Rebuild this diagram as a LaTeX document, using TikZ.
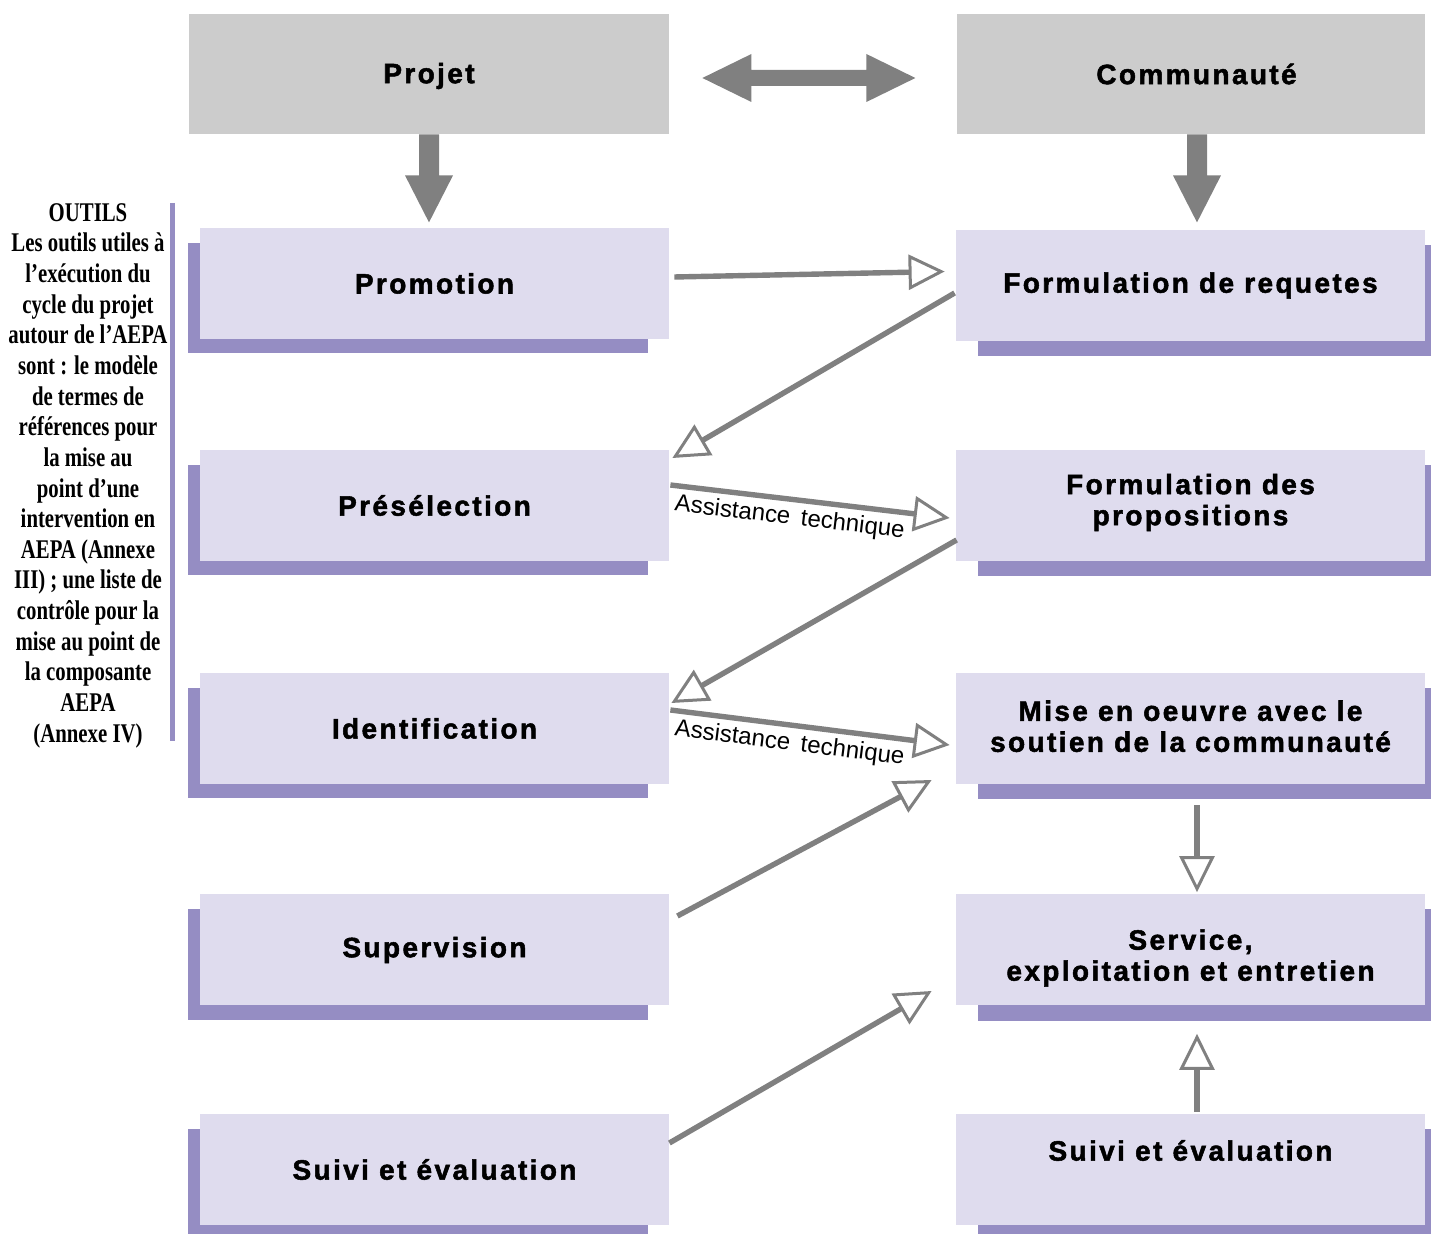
\documentclass[tikz,border=0pt]{standalone}
\usepackage{fontspec}
\setmainfont{Liberation Sans}
\newfontfamily\boxfont{Liberation Sans}[LetterSpace=8.5, BoldFeatures={FakeBold=1.8}]
\newfontfamily\sidefont{Liberation Serif}[FakeStretch=0.77]
\usetikzlibrary{arrows.meta,calc,backgrounds}
\definecolor{lav}{HTML}{DFDCEE}
\definecolor{shad}{HTML}{958DC3}
\definecolor{topg}{HTML}{CCCCCC}
\definecolor{arr}{HTML}{808080}
\newcommand{\twolines}[3]{\raisebox{#1}[\height][\depth]{\begin{tabular}{@{}c@{}}#2\\#3\end{tabular}}}
\begin{document}
\begin{tikzpicture}[x=0.5pt,y=-0.5pt,
  stepbox/.style={fill=lav, minimum width=234.5pt, minimum height=55.5pt, inner sep=0pt, align=center,
    font=\boxfont\bfseries\fontsize{14}{15.5}\selectfont},
  topbox/.style={fill=topg, minimum height=60pt, inner sep=0pt,
    font=\boxfont\bfseries\fontsize{14}{15.5}\selectfont},
  link/.style={draw=arr, line width=2.7pt,
    -{Triangle[open, fill=white, length=18pt, width=17.5pt, line width=1.5pt]}},
  lshadow/.style={fill=shad},
  asslabel/.style={font=\fontsize{12}{14}\selectfont, inner sep=2.5pt},
  block/.style={fill=arr}]
\useasboundingbox (0,0) rectangle (1431,1234);

% top boxes
\node[topbox, minimum width=240pt] (proj) at (429,74) {\raisebox{-1pt}[\height][\depth]{Projet}};
\node[topbox, minimum width=234pt] (comm) at (1191,74) {\hspace{5.5pt}Communauté};

% left column
\node[stepbox] (promo)  at (434.5,283.5) {Promotion};
\node[stepbox] (presel) at (434.5,505.5) {Présélection};
\node[stepbox] (ident)  at (434.5,728.5) {Identification};
\node[stepbox] (superv) at (434.5,950)   {Supervision};
\node[stepbox] (suiviL) at (434.5,1169.5) {Suivi et évaluation};

% right column
\node[stepbox] (formreq)  at (1190.5,285.5) {Formulation de requetes};
\node[stepbox] (formprop) at (1190.5,505.5) {\twolines{1pt}{Formulation des}{propositions}};
\node[stepbox] (mise)     at (1190.5,728.5) {\twolines{-0.8pt}{Mise en oeuvre avec le}{soutien de la communauté}};
\node[stepbox] (serv)     at (1190.5,950)   {\twolines{-4.5pt}{Service,}{exploitation et entretien}};
\node[stepbox] (suiviR)   at (1190.5,1169.5) {\raisebox{9.5pt}[\height][\depth]{Suivi et évaluation}};

\begin{scope}[on background layer]
  \foreach \n in {promo,presel,ident,superv,suiviL}
    \fill[lshadow] ($(\n.north west)+(-12,15)$) rectangle ($(\n.south east)+(-21,14)$);
  \foreach \n in {formreq,formprop,mise,serv,suiviR}
    \fill[lshadow] ($(\n.north west)+(22,15)$) rectangle ($(\n.south east)+(6,15)$);
\end{scope}

% sidebar
\node[anchor=north, align=center, inner sep=0pt,
  font=\sidefont\bfseries\fontsize{13.5}{15.32}\selectfont] (tools) at (88,203)
  {OUTILS\\Les outils utiles à\\l’exécution du\\cycle du projet\\autour de l’AEPA\\sont : le modèle\\de termes de\\références pour\\la mise au\\point d’une\\intervention en\\AEPA (Annexe\\III) ; une liste de\\contrôle pour la\\mise au point de\\la composante\\AEPA\\(Annexe IV)};
\draw[shad, line width=2.5pt] ($(tools.north)+(84,0)$) -- ++(0,538);

% block arrows
\fill[block] ($(proj.south)+(-10,0)$) -- ++(0,41) -- ++(-14,0) -- ++(24,47) -- ++(24,-47) -- ++(-14,0) -- ++(0,-41) -- cycle;
\fill[block] ($(comm.south)+(-4,0)$) -- ++(0,41) -- ++(-14,0) -- ++(24,47) -- ++(24,-47) -- ++(-14,0) -- ++(0,-41) -- cycle;
\fill[block] ($(proj.east)+(33,4)$) -- ++(49,-24) -- ++(0,16) -- ++(115,0) -- ++(0,-16) -- ++(49,24)
  -- ++(-49,24) -- ++(0,-16) -- ++(-115,0) -- ++(0,16) -- cycle;

% connectors
\draw[link] ($(promo.east)+(5,-6.5)$) -- ($(formreq.west)+(-11,-14)$);
\draw[link] ($(formreq.west)+(-1,7.5)$) -- ($(presel.east)+(3,-47.5)$);
\draw[link] ($(presel.east)+(1,-20.5)$) -- node[pos=0.435, sloped, below, asslabel] {Assistance\hspace{0.45em}technique} ($(formprop.west)+(-6,12.5)$);
\draw[link] ($(formprop.west)+(1,34.5)$) -- ($(ident.east)+(2,-25.5)$);
\draw[link] ($(ident.east)+(1,-18.5)$) -- node[pos=0.435, sloped, below, asslabel] {Assistance\hspace{0.45em}technique} ($(mise.west)+(-6,16.5)$);
\draw[link] ($(superv.east)+(8,-34)$) -- ($(mise.west)+(-24,51.5)$);
\draw[link] ($(mise.south)+(6.5,21)$) -- ($(serv.north)+(6.5,-2)$);
\draw[link] ($(suiviL.east)+(0,-26.5)$) -- ($(serv.west)+(-24,41)$);
\draw[link] ($(suiviR.north)+(6.5,-2)$) -- ($(serv.south)+(6.5,28)$);
\end{tikzpicture}
\end{document}
